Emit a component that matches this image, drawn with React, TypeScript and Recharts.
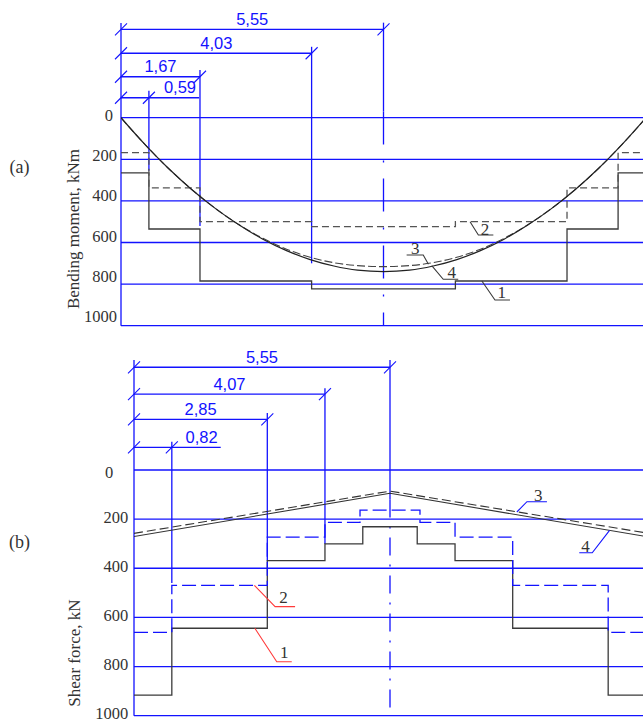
import React from 'react';
import { LineChart, Line, XAxis, YAxis, ReferenceLine, ReferenceDot } from 'recharts';

const BLUE = '#1212ff';
const INK = '#3a3a3a';
const RED = '#ff3b3b';
const SERIF = '"Liberation Serif", "Times New Roman", serif';
const SANS = '"Liberation Sans", Arial, sans-serif';

const yTicks = [0, 200, 400, 600, 800, 1000];

// (a) bending moment, kNm
const momentCurveX = [0, 0.5, 1, 1.5, 2, 2.5, 3, 3.5, 4, 4.5, 5, 5.55, 6.1, 6.6, 7.1, 7.6, 8.1, 8.6, 9.1, 9.6, 10.1, 10.6, 11.1];
const moment3 = [0, 127, 243, 346, 437, 515, 580, 632, 671, 697, 711, 716, 711, 697, 671, 632, 580, 515, 437, 346, 243, 127, 0];
const moment4 = [0, 127, 243, 346, 437, 516, 584, 639, 682, 713, 733, 740, 733, 713, 682, 639, 584, 516, 437, 346, 243, 127, 0];
const momentStepX = [0, 0.59, 1.67, 4.03, 7.07, 9.43, 10.51, 11.1];
const moment1 = [265, 535, 785, 823, 785, 535, 265, 265];
const moment2 = [168, 337, 500, 524, 500, 337, 168, 168];
const momentDims = [0.59, 1.67, 4.03, 5.55];
const momentDimLabels = ['0,59', '1,67', '4,03', '5,55'];

// (b) shear force, kN
const shearLineX = [0, 5.55, 11.1];
const shear3 = [258, 86, 256];
const shear4 = [271, 95, 271];
const shearStepX1 = [0, 0.82, 2.89, 4.14, 4.96, 6.14, 6.96, 8.21, 10.28, 11.1];
const shear1 = [916, 644, 369, 301, 231, 301, 369, 644, 916, 916];
const shearStepX2 = [0, 0.82, 2.89, 4.14, 4.9, 6.2, 6.96, 8.21, 10.28, 11.1];
const shear2 = [661, 470, 273, 213, 163, 213, 273, 470, 661, 661];
const shearDims = [0.82, 2.89, 4.14, 5.55];
const shearDimLabels = ['0,82', '2,85', '4,07', '5,55'];

const curveNames = ['1', '2', '3', '4'];

const pts = (xs: number[], ys: number[]) => xs.map((x, i) => ({ x, y: ys[i] }));

type Dim = { level: number; extTop: number; extBottom: number; lineEnd?: number; labelEnd?: boolean };
type Leader = { x: number; y: number; dx1: number; dy1: number; dx2: number; tx: number; ty: number; color: string };

const slash = (p: any) => (
  <line x1={p.cx - 6} y1={p.cy + 6} x2={p.cx + 6} y2={p.cy - 6} stroke={BLUE} strokeWidth={1.1} />
);

function renderGrid(prefix: string) {
  return yTicks.map((v) => (
    <ReferenceLine key={`${prefix}g${v}`} y={v} stroke={BLUE} strokeWidth={1.3} ifOverflow="visible" />
  ));
}

function renderDims(xs: number[], labels: string[], dims: Dim[], centerDash: string, prefix: string) {
  const out: any[] = [];
  xs.forEach((x, i) => {
    const d = dims[i];
    const end = d.lineEnd ?? x;
    out.push(
      <ReferenceLine key={`${prefix}dl${i}`} segment={[{ x: 0, y: d.level }, { x: end, y: d.level }]} stroke={BLUE} strokeWidth={1.3} ifOverflow="visible" />,
      <ReferenceDot key={`${prefix}s0${i}`} x={0} y={d.level} r={0} ifOverflow="visible" shape={slash} />,
      <ReferenceDot key={`${prefix}s1${i}`} x={x} y={d.level} r={0} ifOverflow="visible" shape={slash} />,
      <ReferenceLine key={`${prefix}ex${i}`} segment={[{ x, y: d.extTop }, { x, y: d.extBottom }]} stroke={BLUE} strokeWidth={1.3} ifOverflow="visible" />,
      <ReferenceDot
        key={`${prefix}t${i}`}
        x={d.labelEnd ? end : x / 2}
        y={d.level}
        r={0}
        ifOverflow="visible"
        shape={(p: any) => (
          <text x={p.cx + (d.labelEnd ? -3 : 0)} y={p.cy - 4.5} textAnchor={d.labelEnd ? 'end' : 'middle'} fill={BLUE} fontFamily={SANS} fontSize={16.5}>
            {labels[i]}
          </text>
        )}
      />
    );
    if (i === xs.length - 1) {
      out.push(
        <ReferenceLine key={`${prefix}cl`} segment={[{ x, y: d.extBottom }, { x, y: 1000 }]} stroke={BLUE} strokeWidth={1.3} strokeDasharray={centerDash} ifOverflow="visible" />
      );
    }
  });
  return out;
}

function renderLeaders(leaders: Leader[], prefix: string) {
  return leaders.map((l, i) => (
    <ReferenceDot
      key={`${prefix}ld${i}`}
      x={l.x}
      y={l.y}
      r={0}
      ifOverflow="visible"
      shape={(p: any) => (
        <g>
          <polyline
            points={`${p.cx},${p.cy} ${p.cx + l.dx1},${p.cy + l.dy1} ${p.cx + l.dx2},${p.cy + l.dy1}`}
            fill="none"
            stroke={l.color}
            strokeWidth={1.1}
          />
          <text x={p.cx + l.tx} y={p.cy + l.ty} textAnchor="middle" fill="#333" fontFamily={SERIF} fontSize={17}>
            {curveNames[i]}
          </text>
        </g>
      )}
    />
  ));
}

const textDot = (key: string, x: number, y: number, label: string, size: number, rotate: boolean) => (
  <ReferenceDot
    key={key}
    x={x}
    y={y}
    r={0}
    ifOverflow="visible"
    shape={(p: any) => (
      <text
        x={p.cx}
        y={p.cy}
        transform={rotate ? `rotate(-90 ${p.cx} ${p.cy})` : undefined}
        textAnchor="middle"
        dominantBaseline="central"
        fill="#333"
        fontFamily={SERIF}
        fontSize={size}
      >
        {label}
      </text>
    )}
  />
);

const makeTick = (slope: number, base: number, zeroShift: number, zeroDy: number) => (props: any) => {
  const v = props.payload.value;
  return (
    <text
      x={props.x + (v === 0 ? zeroShift : 0)}
      y={props.y + base - v * slope + (v === 0 ? zeroDy : 0)}
      textAnchor="end"
      dominantBaseline="central"
      fill="#333"
      fontFamily={SERIF}
      fontSize={16.5}
    >
      {v}
    </text>
  );
};

const momentLayout: Dim[] = [
  { level: -96, extTop: -130, extBottom: 255, lineEnd: 1.65, labelEnd: true },
  { level: -197, extTop: -229, extBottom: 521 },
  { level: -310, extTop: -341, extBottom: 700 },
  { level: -425, extTop: -457, extBottom: -30 },
];
const shearLayout: Dim[] = [
  { level: -92, extTop: -115, extBottom: 460, lineEnd: 1.88, labelEnd: true },
  { level: -206, extTop: -232, extBottom: 369 },
  { level: -309, extTop: -333, extBottom: 301 },
  { level: -418, extTop: -448, extBottom: 120 },
];
const momentLeaders: Leader[] = [
  { x: 7.63, y: 785, dx1: 13.1, dy1: 19, dx2: 28.1, tx: 19.8, ty: 17.3, color: INK },
  { x: 7.38, y: 500, dx1: 8.3, dy1: 13.3, dx2: 23.3, tx: 15, ty: 12.8, color: INK },
  { x: 6.5, y: 705, dx1: -5.2, dy1: -9.3, dx2: -21.8, tx: -13.2, ty: -10.3, color: INK },
  { x: 6.57, y: 711, dx1: 11.5, dy1: 13.7, dx2: 26.5, tx: 19.9, ty: 12.7, color: INK },
];
const shearLeaders: Leader[] = [
  { x: 2.62, y: 644, dx1: 21.9, dy1: 33.5, dx2: 36.9, tx: 29.4, ty: 30.1, color: RED },
  { x: 2.61, y: 470, dx1: 20.7, dy1: 21.2, dx2: 40.7, tx: 29, ty: 17.8, color: RED },
  { x: 8.3, y: 171, dx1: 10.1, dy1: -10.3, dx2: 30.1, tx: 21.4, ty: -11.5, color: BLUE },
  { x: 10.31, y: 246, dx1: -17.3, dy1: 22.3, dx2: -30.3, tx: -24, ty: 21.3, color: BLUE },
];

export default function App() {
  return (
    <div style={{ position: 'absolute', left: 0, top: 0, width: 643, height: 722, overflow: 'hidden', background: '#fff' }}>
      <div style={{ position: 'absolute', left: 0, top: 0 }}>
        <LineChart width={660} height={340} margin={{ top: 0, right: 14, bottom: 14.3, left: 71 }}>
          <XAxis type="number" dataKey="x" domain={[0, 11.1]} hide allowDataOverflow />
          <YAxis
            type="number"
            width={50}
            reversed
            domain={[-566, 1000]}
            ticks={yTicks}
            interval={0}
            allowDataOverflow
            axisLine={false}
            tickLine={false}
            tickSize={0}
            tickMargin={4}
            tick={makeTick(0.0075, -2, -4, 0)}
          />
          {renderGrid('m')}
          <ReferenceLine segment={[{ x: 0, y: -455 }, { x: 0, y: 1000 }]} stroke={BLUE} strokeWidth={1.3} ifOverflow="visible" />
          {renderDims(momentDims, momentDimLabels, momentLayout, '33 16 2 16', 'm')}
          <Line data={pts(momentStepX, moment1)} dataKey="y" type="stepAfter" stroke={INK} strokeWidth={1.3} dot={false} activeDot={false} isAnimationActive={false} />
          <Line data={pts(momentStepX, moment2)} dataKey="y" type="stepAfter" stroke="#555" strokeWidth={1.3} strokeDasharray="7 4" dot={false} activeDot={false} isAnimationActive={false} />
          <Line data={pts(momentCurveX, moment3)} dataKey="y" type="monotone" stroke="#444" strokeWidth={1.1} strokeDasharray="8 3" dot={false} activeDot={false} isAnimationActive={false} />
          <Line data={pts(momentCurveX, moment4)} dataKey="y" type="monotone" stroke="#222" strokeWidth={1.2} dot={false} activeDot={false} isAnimationActive={false} />
          {renderLeaders(momentLeaders, 'm')}
          {textDot('ma', -2.146, 236, '(a)', 18, false)}
          {textDot('mt', -0.994, 535, 'Bending moment, kNm', 17, true)}
        </LineChart>
      </div>
      <div style={{ position: 'absolute', left: 0, top: 340 }}>
        <LineChart width={660} height={382} margin={{ top: 0, right: 14, bottom: 6.3, left: 84 }}>
          <XAxis type="number" dataKey="x" domain={[0, 11.1]} hide allowDataOverflow />
          <YAxis
            type="number"
            width={50}
            reversed
            domain={[-529, 1000]}
            ticks={yTicks}
            interval={0}
            allowDataOverflow
            axisLine={false}
            tickLine={false}
            tickSize={0}
            tickMargin={5.7}
            tick={makeTick(0.0012, -1, -15, 3.5)}
          />
          {renderGrid('s')}
          <ReferenceLine segment={[{ x: 0, y: -448 }, { x: 0, y: 1000 }]} stroke={BLUE} strokeWidth={1.3} ifOverflow="visible" />
          {renderDims(shearDims, shearDimLabels, shearLayout, '18 9 2 9', 's')}
          <Line data={pts(shearStepX1, shear1)} dataKey="y" type="stepAfter" stroke={INK} strokeWidth={1.3} dot={false} activeDot={false} isAnimationActive={false} />
          <Line data={pts(shearStepX2, shear2)} dataKey="y" type="stepAfter" stroke={BLUE} strokeWidth={1.3} strokeDasharray="14 5" dot={false} activeDot={false} isAnimationActive={false} />
          <Line data={pts(shearLineX, shear3)} dataKey="y" type="linear" stroke="#333" strokeWidth={1.1} strokeDasharray="9 4" dot={false} activeDot={false} isAnimationActive={false} />
          <Line data={pts(shearLineX, shear4)} dataKey="y" type="linear" stroke="#333" strokeWidth={1.1} dot={false} activeDot={false} isAnimationActive={false} />
          {renderLeaders(shearLeaders, 's')}
          {textDot('sb', -2.484, 292, '(b)', 18, false)}
          {textDot('st', -1.3, 745, 'Shear force, kN', 17, true)}
        </LineChart>
      </div>
    </div>
  );
}
